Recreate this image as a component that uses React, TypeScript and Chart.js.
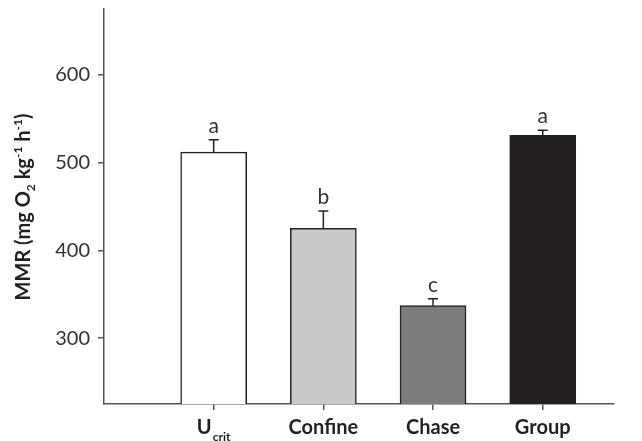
import { useEffect, useRef } from "react";
import { Chart, registerables } from "chart.js";

Chart.register(...registerables);

// data
const categories = ["U", "Confine", "Chase", "Group"];
const subscripts = ["crit", "", "", ""];
const means = [512, 425, 337, 531];
const errors = [14, 20, 8, 6];
const letters = ["a", "b", "c", "a"];
const yTicks = [300, 400, 500, 600];

const barColors = ["#ffffff", "#c8c9cb", "#7b7c7e", "#231f20"];
const INK = "#231f20";
const AXIS = "#555555";
const FONT = "Lato";

const extras = {
  id: "extras",
  afterDatasetsDraw(chart: any) {
    const { ctx, scales } = chart;
    const x = scales.x;
    const y = scales.y;
    const meta = chart.getDatasetMeta(0);
    ctx.save();

    // error bars + significance letters
    ctx.strokeStyle = INK;
    ctx.lineWidth = 1.5;
    ctx.fillStyle = "#333333";
    ctx.font = `21px ${FONT}`;
    ctx.textAlign = "center";
    ctx.textBaseline = "alphabetic";
    meta.data.forEach((bar: any, i: number) => {
      const top = y.getPixelForValue(means[i]);
      const cap = y.getPixelForValue(means[i] + errors[i]);
      ctx.beginPath();
      ctx.moveTo(bar.x, top);
      ctx.lineTo(bar.x, cap);
      ctx.moveTo(bar.x - 5, cap);
      ctx.lineTo(bar.x + 5, cap);
      ctx.stroke();
      ctx.fillText(letters[i], bar.x, cap - 7);
    });

    // x category labels (with subscript)
    ctx.fillStyle = INK;
    ctx.textAlign = "left";
    categories.forEach((c, i) => {
      const cx = x.getPixelForValue(i + 1);
      ctx.font = `bold 20px ${FONT}`;
      const w1 = ctx.measureText(c).width;
      ctx.font = `bold 12px ${FONT}`;
      const w2 = subscripts[i] ? ctx.measureText(subscripts[i]).width + 1 : 0;
      const start = cx - (w1 + w2) / 2;
      ctx.font = `bold 20px ${FONT}`;
      ctx.fillText(c, start, 434);
      if (subscripts[i]) {
        ctx.font = `bold 12px ${FONT}`;
        ctx.fillText(subscripts[i], start + w1 + 1, 441);
      }
    });

    // y title with sub/superscripts
    const parts: [string, number][] = [
      ["MMR (mg O", 0],
      ["2", 1],
      [" kg", 0],
      ["\u20111", -1],
      [" h", 0],
      ["\u20111", -1],
      [")", 0],
    ];
    const fontFor = (s: number) => (s === 0 ? `bold 20px ${FONT}` : `bold 12px ${FONT}`);
    let total = 0;
    parts.forEach(([t, s]) => {
      ctx.font = fontFor(s);
      total += ctx.measureText(t).width;
    });
    ctx.translate(29.5, 207);
    ctx.rotate(-Math.PI / 2);
    let px = -total / 2;
    parts.forEach(([t, s]) => {
      ctx.font = fontFor(s);
      const dy = s === 1 ? 5 : s === -1 ? -8 : 0;
      ctx.fillText(t, px, dy);
      px += ctx.measureText(t).width;
    });
    ctx.restore();
  },
};

export default function App() {
  const canvasRef = useRef<HTMLCanvasElement | null>(null);

  useEffect(() => {
    if (!canvasRef.current) return;
    const c = new Chart(canvasRef.current, {
      type: "bar",
      data: {
        datasets: [
          {
            data: means.map((v, i) => ({ x: i + 1, y: v })),
            backgroundColor: barColors,
            borderColor: INK,
            borderWidth: 1.5,
            barThickness: 66,
          },
        ],
      },
      options: {
        animation: false,
        responsive: true,
        maintainAspectRatio: false,
        layout: { padding: { top: 9, right: 28, left: 0, bottom: 0 } },
        plugins: { legend: { display: false }, tooltip: { enabled: false } },
        scales: {
          x: {
            type: "linear",
            min: 0,
            max: 4.65,
            offset: false,
            afterBuildTicks: (s: any) => {
              s.ticks = categories.map((_, i) => ({ value: i + 1 }));
            },
            afterFit: (s: any) => {
              s.height = 37;
              s.paddingLeft = 0;
              s.paddingRight = 0;
            },
            ticks: { display: false },
            grid: { offset: false, drawOnChartArea: false, drawTicks: true, tickLength: 6, color: AXIS, lineWidth: 1.5 },
            border: { display: true, color: AXIS, width: 1.5 },
          },
          y: {
            min: 225,
            max: 675,
            afterBuildTicks: (s: any) => {
              s.ticks = yTicks.map((v) => ({ value: v }));
            },
            afterFit: (s: any) => {
              s.width = 104;
              s.paddingTop = 0;
              s.paddingBottom = 0;
            },
            ticks: { color: "#333333", padding: 8, font: { family: FONT, size: 20 } },
            grid: { drawOnChartArea: false, drawTicks: true, tickLength: 6, color: AXIS, lineWidth: 1.5 },
            border: { display: true, color: AXIS, width: 1.5 },
          },
        },
      },
      plugins: [extras],
    });
    return () => c.destroy();
  }, []);

  return (
    <div style={{ position: "fixed", left: 0, top: 0, width: 642, height: 441, background: "#fff" }}>
      <canvas ref={canvasRef} />
    </div>
  );
}
